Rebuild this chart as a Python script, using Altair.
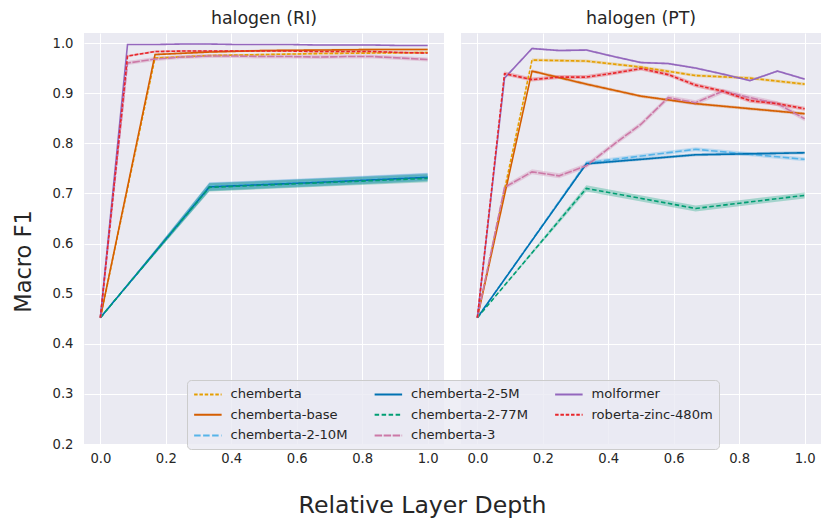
import altair as alt
import pandas as pd

# Panels (probing task) and models, in plotting / legend order
PANELS = ["halogen (RI)", "halogen (PT)"]
MODELS = [
    "chemberta", "chemberta-base", "chemberta-2-10M", "chemberta-2-5M",
    "chemberta-2-77M", "chemberta-3", "molformer", "roberta-zinc-480m",
]
COLORS = {
    "chemberta": "#E69F00",
    "chemberta-base": "#D55E00",
    "chemberta-2-10M": "#56B4E9",
    "chemberta-2-5M": "#0072B2",
    "chemberta-2-77M": "#009E73",
    "chemberta-3": "#CC79A7",
    "molformer": "#9467BD",
    "roberta-zinc-480m": "#E8262B",
}
DASHES = {
    "chemberta": [3.5, 1.8],
    "chemberta-base": [1, 0],
    "chemberta-2-10M": [6.5, 2.5],
    "chemberta-2-5M": [1, 0],
    "chemberta-2-77M": [4.5, 2.5],
    "chemberta-3": [7.5, 1.5],
    "molformer": [1, 0],
    "roberta-zinc-480m": [3.5, 1.8],
}

# relative layer depth for models with 3, 6 and 12 layers
X3 = [0.0, 0.333, 0.667, 1.0]
X6 = [0.0, 0.167, 0.333, 0.5, 0.667, 0.833, 1.0]
X12 = [0.0, 0.083, 0.167, 0.25, 0.333, 0.417, 0.5, 0.583, 0.667, 0.75, 0.833, 0.917, 1.0]
DEPTH = {
    "chemberta": X6, "chemberta-base": X6,
    "chemberta-2-10M": X3, "chemberta-2-5M": X3, "chemberta-2-77M": X3,
    "chemberta-3": X12, "molformer": X12, "roberta-zinc-480m": X12,
}

# Macro F1 per layer
F1_RI = {
    "chemberta": [0.452, 0.970, 0.975, 0.977, 0.979, 0.980, 0.981],
    "chemberta-base": [0.452, 0.977, 0.982, 0.985, 0.986, 0.987, 0.987],
    "chemberta-2-10M": [0.452, 0.714, 0.723, 0.733],
    "chemberta-2-5M": [0.452, 0.713, 0.722, 0.732],
    "chemberta-2-77M": [0.452, 0.712, 0.721, 0.730],
    "chemberta-3": [0.452, 0.960, 0.968, 0.972, 0.974, 0.974, 0.973, 0.973, 0.972, 0.973, 0.973, 0.970, 0.967],
    "molformer": [0.452, 0.997, 0.997, 0.998, 0.998, 0.997, 0.997, 0.997, 0.996, 0.996, 0.996, 0.995, 0.995],
    "roberta-zinc-480m": [0.452, 0.974, 0.983, 0.984, 0.984, 0.984, 0.984, 0.984, 0.983, 0.983, 0.983, 0.981, 0.980],
}
F1_PT = {
    "chemberta": [0.452, 0.966, 0.964, 0.952, 0.935, 0.930, 0.918],
    "chemberta-base": [0.452, 0.944, 0.918, 0.894, 0.879, 0.869, 0.859],
    "chemberta-2-10M": [0.452, 0.761, 0.788, 0.768],
    "chemberta-2-5M": [0.452, 0.759, 0.777, 0.781],
    "chemberta-2-77M": [0.452, 0.710, 0.670, 0.696],
    "chemberta-3": [0.452, 0.712, 0.743, 0.735, 0.755, 0.798, 0.838, 0.891, 0.881, 0.904, 0.891, 0.879, 0.849],
    "molformer": [0.452, 0.930, 0.989, 0.985, 0.986, 0.973, 0.961, 0.959, 0.950, 0.938, 0.925, 0.944, 0.928],
    "roberta-zinc-480m": [0.452, 0.939, 0.927, 0.932, 0.932, 0.940, 0.949, 0.937, 0.916, 0.904, 0.885, 0.879, 0.869],
}
# half-width of the confidence band around each curve
CI_RI = {
    "chemberta": 0.002, "chemberta-base": 0.002, "chemberta-2-10M": 0.008,
    "chemberta-2-5M": 0.008, "chemberta-2-77M": 0.008, "chemberta-3": 0.004,
    "molformer": 0.001, "roberta-zinc-480m": 0.002,
}
CI_PT = {
    "chemberta": 0.003, "chemberta-base": 0.003, "chemberta-2-10M": 0.004,
    "chemberta-2-5M": 0.003, "chemberta-2-77M": 0.006, "chemberta-3": 0.005,
    "molformer": 0.002, "roberta-zinc-480m": 0.004,
}

rows = []
for panel, f1, ci in [(PANELS[0], F1_RI, CI_RI), (PANELS[1], F1_PT, CI_PT)]:
    for m in MODELS:
        for d, v in zip(DEPTH[m], f1[m]):
            w = ci[m] if d > 0 else 0.0
            rows.append({"panel": panel, "model": m, "band": m, "depth": d,
                         "f1": v, "lo": v - w, "hi": v + w})
df = pd.DataFrame(rows)

FONT = "DejaVu Sans"
TEXT = "#262626"

x_enc = alt.X(
    "depth:Q",
    scale=alt.Scale(domain=[-0.05, 1.05], nice=False, zero=False),
    axis=alt.Axis(values=[0.0, 0.2, 0.4, 0.6, 0.8, 1.0], format=".1f", title=None,
                  labelPadding=8),
)
y_axis = alt.Axis(
    values=[0.2, 0.3, 0.4, 0.5, 0.6, 0.7, 0.8, 0.9, 1.0], format=".1f",
    title="Macro F1", titleFontSize=22.5, titleFont=FONT, titleFontWeight="normal",
    titleColor=TEXT, titlePadding=17, titleY=228, labelPadding=11,
)
y_scale = alt.Scale(domain=[0.2, 1.02], nice=False, zero=False)

# three-column legend laid over the bottom of both panels; the symbol is a
# short horizontal line that starts at the left edge of its entry
legend = alt.Legend(
    title=None, orient="none", legendX=103, legendY=347, columns=3,
    symbolType="M-1,0H3", symbolSize=189, symbolStrokeWidth=2,
    labelFont=FONT, labelFontSize=13.1, labelColor=TEXT, labelOffset=21.5,
    columnPadding=22.5, rowPadding=4.7, padding=6,
    fillColor="rgba(234,234,242,0.8)", strokeColor="#CCCCCC", cornerRadius=4,
    zindex=2,
)
color_scale = alt.Scale(domain=MODELS, range=[COLORS[m] for m in MODELS])
dash_scale = alt.Scale(domain=MODELS, range=[DASHES[m] for m in MODELS])
# the band fill uses its own scale (listed in reverse) so it stays out of the legend
BAND_ORDER = MODELS[::-1]
band_scale = alt.Scale(domain=BAND_ORDER, range=[COLORS[m] for m in BAND_ORDER])

base = alt.Chart(df)

# shaded confidence bands under the curves
band = base.mark_area(opacity=0.3).encode(
    x=x_enc,
    y=alt.Y("lo:Q", scale=y_scale, axis=y_axis),
    y2="hi:Q",
    fill=alt.Fill("band:N", scale=band_scale, legend=None),
)

line = base.mark_line(strokeWidth=1.6).encode(
    x=x_enc,
    y=alt.Y("f1:Q", scale=y_scale, axis=y_axis),
    color=alt.Color("model:N", scale=color_scale, legend=legend),
    strokeDash=alt.StrokeDash("model:N", scale=dash_scale, legend=legend),
)

chart = (
    alt.layer(band, line)
    .properties(width=360, height=411)
    .facet(
        column=alt.Column(
            "panel:N", sort=PANELS,
            header=alt.Header(title=None, labelFontSize=17.4, labelFont=FONT,
                              labelColor=TEXT, labelPadding=6),
        ),
        spacing=17,
    )
    .properties(
        title=alt.TitleParams(
            "Relative Layer Depth", orient="bottom", anchor="middle", frame="bounds",
            fontSize=23.6, font=FONT, fontWeight="normal", color=TEXT, offset=30, dx=6,
        ),
        padding={"left": 12, "top": 9, "right": 2, "bottom": 2},
        background="white",
    )
    .configure_view(fill="#EAEAF2", stroke=None)
    .configure_axis(
        grid=True, gridColor="white", gridWidth=1, domain=False, ticks=False,
        labelFont=FONT, labelFontSize=13.2, labelColor=TEXT,
    )
)

chart.save("out.html", embed_options={"renderer": "svg", "actions": False})
